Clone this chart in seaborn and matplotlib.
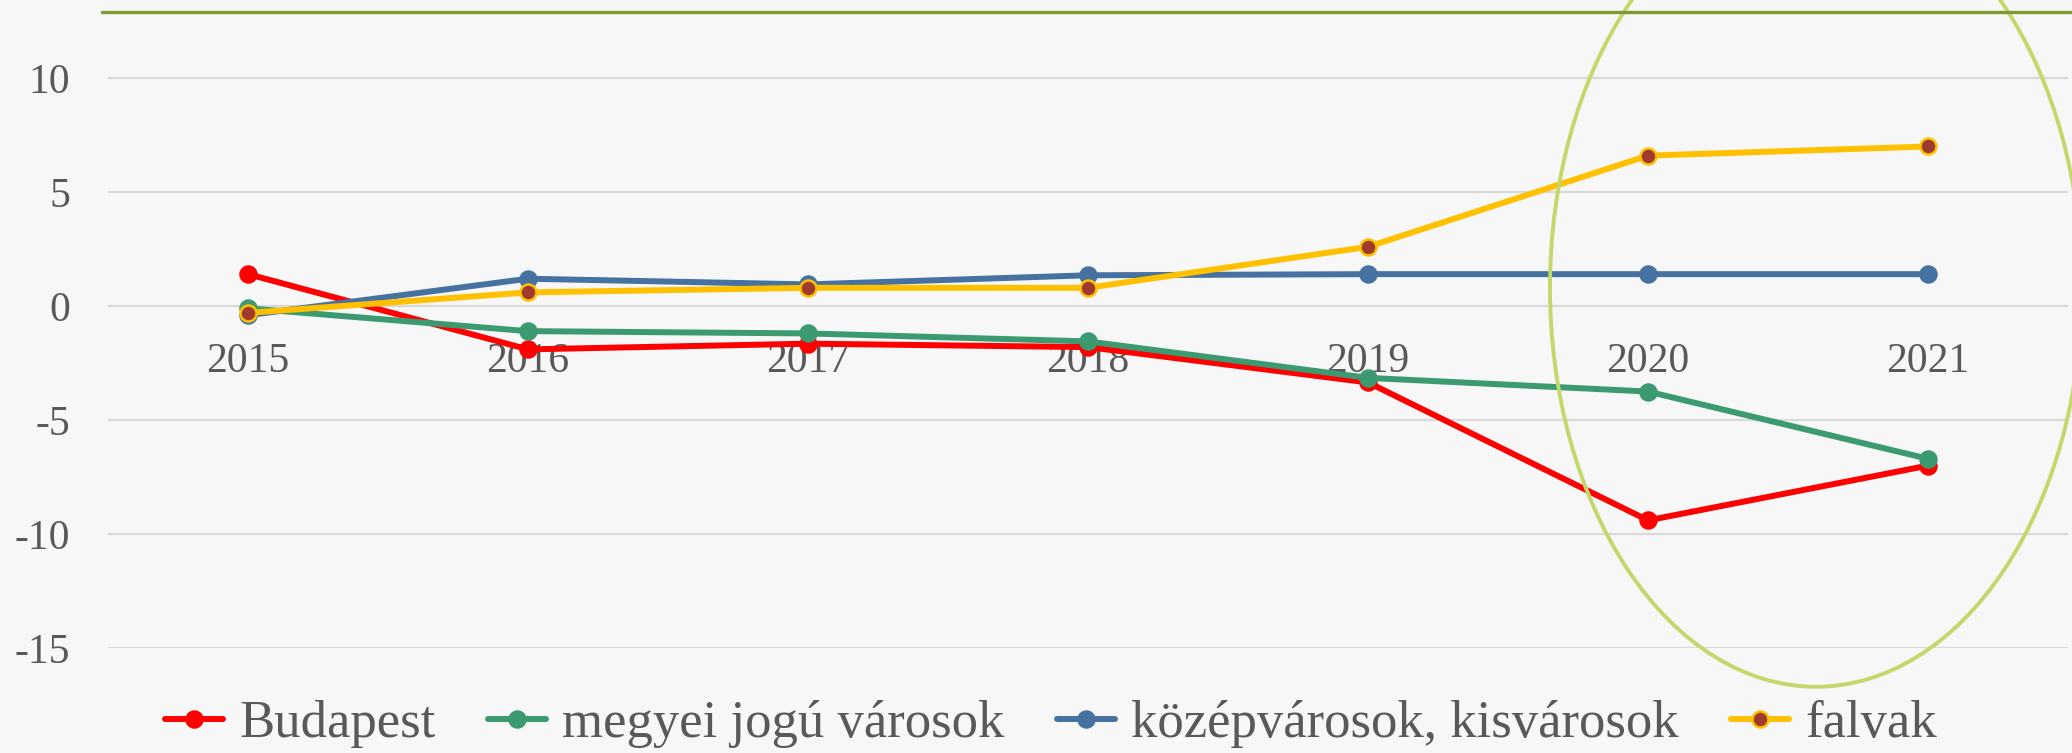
import matplotlib
matplotlib.use("Agg")
import matplotlib.pyplot as plt
from matplotlib.patches import Ellipse
from matplotlib.lines import Line2D
import pandas as pd
import seaborn as sns

# data
years = ['2015', '2016', '2017', '2018', '2019', '2020', '2021']
budapest = [1.4, -1.9, -1.65, -1.8, -3.35, -9.4, -7.0]
megyei = [-0.1, -1.1, -1.2, -1.55, -3.15, -3.75, -6.7]
kozep = [-0.4, 1.2, 0.95, 1.35, 1.4, 1.4, 1.4]
falvak = [-0.3, 0.6, 0.8, 0.8, 2.6, 6.6, 7.0]

series_names = ['Budapest', 'megyei jogú városok', 'középvárosok, kisvárosok', 'falvak']
series_values = [budapest, megyei, kozep, falvak]
line_colors = ['#ff0000', '#3b9a70', '#4572a0', '#ffc000']
face_colors = ['#ff0000', '#3b9a70', '#4572a0', '#9e3b2e']
yticks = [-15, -10, -5, 0, 5, 10]

rows = []
for name, vals in zip(series_names, series_values):
    for yr, v in zip(years, vals):
        rows.append({'year': yr, 'value': v, 'series': name})
df = pd.DataFrame(rows)

sns.set_style("white")
plt.rcParams['font.family'] = ['Liberation Serif', 'DejaVu Serif']

bg = '#f7f7f7'
fig = plt.figure(figsize=(20.72, 7.53), dpi=100, facecolor=bg)
ax = fig.add_axes([108 / 2072, 1 - 648 / 753, 1960 / 2072, 636 / 753])
ax.set_facecolor(bg)

for name, lc, fc in zip(series_names, line_colors, face_colors):
    sns.lineplot(data=df[df['series'] == name], x='year', y='value', ax=ax,
                 color=lc, linewidth=4.3, marker='o', markersize=11.5,
                 markerfacecolor=fc, markeredgecolor=lc, markeredgewidth=1.8,
                 label=name)

ax.set_xlim(-0.5, 6.5)
ax.set_ylim(-15, 12.9)
ax.set_yticks(yticks)
ax.set_yticklabels([str(t) for t in yticks])
ax.grid(axis='y', color='#d9d9d9', linewidth=1.6)
ax.set_axisbelow(True)
for s in ax.spines.values():
    s.set_visible(False)
ax.spines['bottom'].set_position(('data', 0))
ax.set_xlabel('')
ax.set_ylabel('')
ax.tick_params(axis='x', length=0, pad=26, labelsize=30, labelcolor='#595959')
ax.tick_params(axis='y', length=0, pad=27, labelsize=30, labelcolor='#595959')

# highlight ellipse around 2020-2021
ell = Ellipse((5.6, 0.8), width=1.9, height=35, fill=False,
              edgecolor='#c3d86a', linewidth=2.8, clip_on=False, zorder=5)
ax.add_patch(ell)

# olive line on top of the slide
fig.add_artist(Line2D([102 / 2072, 1.0], [1 - 12 / 753, 1 - 12 / 753],
                      color='#7f9a2f', linewidth=2.4, transform=fig.transFigure))

handles, labels = ax.get_legend_handles_labels()
ax.get_legend().remove()
fig.legend(handles, labels, loc='center', bbox_to_anchor=(1051 / 2072, 1 - 724 / 753),
           ncol=4, frameon=False, fontsize=38, labelcolor='#595959',
           handlelength=1.1, handletextpad=0.3, columnspacing=1.0)

fig.savefig('out.png', dpi=100, facecolor=bg)
